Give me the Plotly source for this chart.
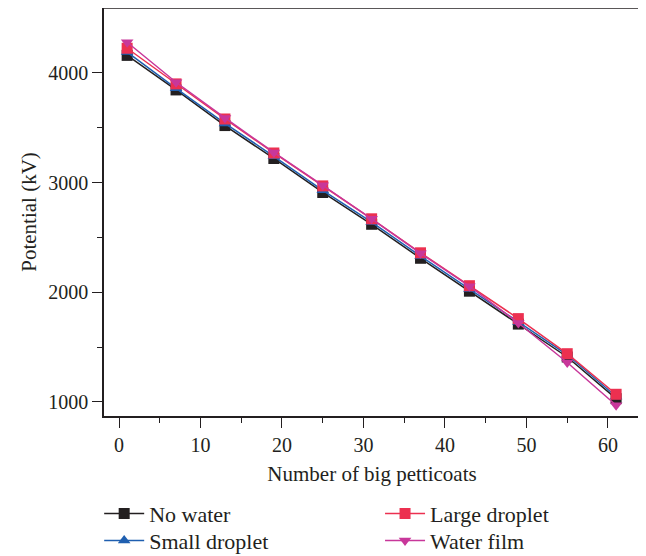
import plotly.graph_objects as go

x_vals = [1, 7, 13, 19, 25, 31, 37, 43, 49, 55, 61]
no_water = [4160, 3845, 3520, 3220, 2910, 2620, 2310, 2010, 1710, 1410, 1030]
small_droplet = [4190, 3860, 3540, 3240, 2930, 2640, 2330, 2030, 1730, 1430, 1050]
large_droplet = [4225, 3900, 3580, 3270, 2970, 2670, 2360, 2060, 1760, 1440, 1070]
water_film = [4280, 3915, 3590, 3275, 2975, 2670, 2355, 2055, 1720, 1360, 970]

series = [
    ("No water", no_water, "#231f20", "square", "legend"),
    ("Small droplet", small_droplet, "#1f5fb0", "triangle-up", "legend3"),
    ("Large droplet", large_droplet, "#ec3050", "square", "legend2"),
    ("Water film", water_film, "#c8379a", "triangle-down", "legend4"),
]

fig = go.Figure()
for name, vals, color, sym, lg in series:
    fig.add_trace(go.Scatter(
        x=x_vals, y=vals, name=name, mode="lines+markers",
        line=dict(color=color, width=1.5),
        marker=dict(symbol=sym, size=11, color=color),
        legend=lg,
    ))

font = "Liberation Serif, Times New Roman, serif"
leg_common = dict(
    orientation="v", xanchor="left", yanchor="top",
    itemwidth=40, font=dict(family=font, size=22, color="#231f20"),
    tracegroupgap=0, bgcolor="rgba(0,0,0,0)",
)
row1, row2 = -0.188, -0.254
col1, col2 = -0.009, 0.515
fig.update_layout(
    width=638, height=575,
    margin=dict(l=96, r=6, t=0, b=167),
    plot_bgcolor="white", paper_bgcolor="white",
    font=dict(family=font, size=20, color="#231f20"),
    showlegend=True,
    legend=dict(x=col1, y=row1, **leg_common),
    legend2=dict(x=col2, y=row1, **leg_common),
    legend3=dict(x=col1, y=row2, **leg_common),
    legend4=dict(x=col2, y=row2, **leg_common),
    xaxis=dict(
        range=[-1.84, 63.93], showline=True, linecolor="#231f20", linewidth=1.5,
        mirror=False, ticks="outside", ticklen=10, tickwidth=1.2, tickcolor="#231f20",
        tickvals=[0, 10, 20, 30, 40, 50, 60], automargin=False,
        minor=dict(tickvals=[5, 15, 25, 35, 45, 55], ticks="outside", ticklen=5, tickcolor="#231f20"),
        showgrid=False, zeroline=False,
        title=dict(text="Number of big petticoats", font=dict(size=21), standoff=12),
    ),
    yaxis=dict(
        range=[872, 4592], showline=True, linecolor="#231f20", linewidth=1.5,
        ticks="outside", ticklen=10, tickwidth=1.2, tickcolor="#231f20",
        tickvals=[1000, 2000, 3000, 4000], automargin=False,
        minor=dict(tickvals=[1500, 2500, 3500], ticks="outside", ticklen=5, tickcolor="#231f20"),
        showgrid=False, zeroline=False,
        title=dict(text="Potential (kV)", font=dict(size=21), standoff=6),
    ),
)
# top border line
fig.add_shape(type="line", xref="paper", yref="paper", x0=0, x1=1, y0=1, y1=1,
              line=dict(color="#231f20", width=1.5))

fig.write_html("out.html")
